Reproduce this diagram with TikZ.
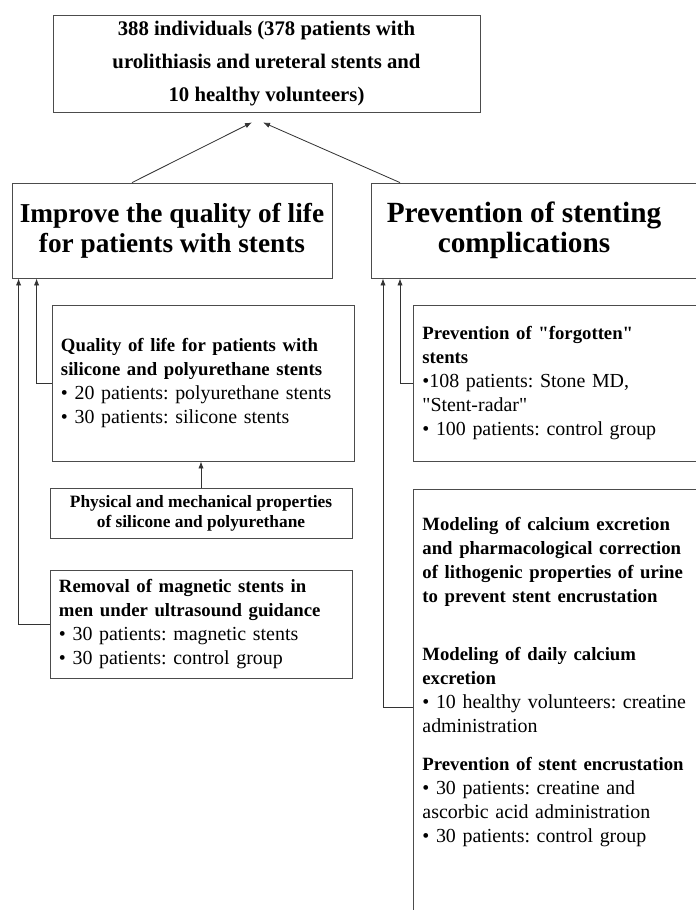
\documentclass[tikz,border=0pt]{standalone}
\usepackage{fontspec}
\setmainfont{Liberation Serif}[Ligatures=TeXOff]
\usetikzlibrary{arrows.meta,calc}
\frenchspacing
\newcommand{\hd}[1]{{\fontsize{16}{20.5}\selectfont\bfseries #1}}

\begin{document}
\begin{tikzpicture}
[x=0.03cm,y=-0.03cm,
box/.style={draw=black!70,line width=0.7pt,rectangle,inner sep=0pt},
headbox/.style={box,minimum height=2.85cm},
subbox/.style={box,inner xsep=0.27cm,align=left,
font=\fontsize{17}{20.5}\selectfont},
arr/.style={->,>={Latex[length=6pt,width=4.5pt]},draw=black!80,line width=0.7pt}]
\path[use as bounding box] (0,0) rectangle (696,910);
\clip (0,0) rectangle (696,910);

\node (all) at (266.5,63.5) [box,minimum width=12.81cm,minimum height=2.91cm,align=center,font=\fontsize{17.7}{28}\selectfont\bfseries] {388 individuals (378 patients with\\urolithiasis and ureteral stents and\\10 healthy volunteers)};

\node (improve) at (172,230.5) [headbox,minimum width=9.6cm,align=center,font=\fontsize{23.3}{25.6}\selectfont\bfseries] {Improve the quality of life\\for patients with stents};
\node (prevent) at (371,230.5) [headbox,anchor=west,minimum width=10.8cm] {};
\node (preventtxt) at (524,230.5) [align=center,font=\fontsize{25}{25.6}\selectfont\bfseries] {Prevention of stenting\\complications};

\node (quality) at (203,383) [subbox,text width=8.52cm,minimum width=9.06cm,minimum height=4.68cm] {\hd{Quality of life for patients with}\\\hd{silicone and polyurethane stents}\\• 20 patients: polyurethane stents\\• 30 patients: silicone stents};
\node (physical) at (201,513) [box,minimum width=9.06cm,minimum height=1.5cm,align=center,font=\fontsize{14.8}{17}\selectfont\bfseries] {Physical and mechanical properties\\of silicone and polyurethane};
\node (removal) at (201,624) [subbox,text width=8.52cm,minimum width=9.06cm,minimum height=3.24cm] {\hd{Removal of magnetic stents in}\\\hd{men under ultrasound guidance}\\• 30 patients: magnetic stents\\• 30 patients: control group};

\node (forgotten) at (413,383) [subbox,anchor=west,text width=9cm,minimum height=4.68cm] {\hd{Prevention of "forgotten"}\\\hd{stents}\\•108 patients: Stone MD,\\"Stent-radar"\\• 100 patients: control group};
\node (modeling) at (413,707) [subbox,anchor=west,text width=9cm,minimum height=13.08cm] {\hd{Modeling of calcium excretion}\\\hd{and pharmacological correction}\\\hd{of lithogenic properties of urine}\\\hd{to prevent stent encrustation}\\[1.02cm]\hd{Modeling of daily calcium}\\\hd{excretion}\\• 10 healthy volunteers: creatine\\administration\\[0.42cm]\hd{Prevention of stent encrustation}\\• 30 patients: creatine and\\ascorbic acid administration\\• 30 patients: control group\rule[-1.65cm]{0pt}{1.65cm}};

% entry points under the two headings
\coordinate (inA) at ([xshift=0.21cm]improve.south west);
\coordinate (inB) at ([xshift=0.75cm]improve.south west);
\coordinate (inC) at ([xshift=0.36cm]prevent.south west);
\coordinate (inD) at ([xshift=0.87cm]prevent.south west);
\coordinate (tipL) at ([xshift=-0.435cm,yshift=-0.3cm]all.south);
\coordinate (tipR) at ([xshift=-0.105cm,yshift=-0.3cm]all.south);

\draw[arr] ([xshift=-1.2cm]improve.north) -- (tipL);
\draw[arr] ([xshift=0.87cm]prevent.north west) -- (tipR);

\draw[arr] (removal.west) -| (inA);
\draw[arr] (quality.west) -| (inB);
\draw[arr] (physical.north) -- (physical.north |- quality.south);
\draw[arr] (modeling.west) -| (inC);
\draw[arr] (forgotten.west) -| (inD);

\end{tikzpicture}
\end{document}
